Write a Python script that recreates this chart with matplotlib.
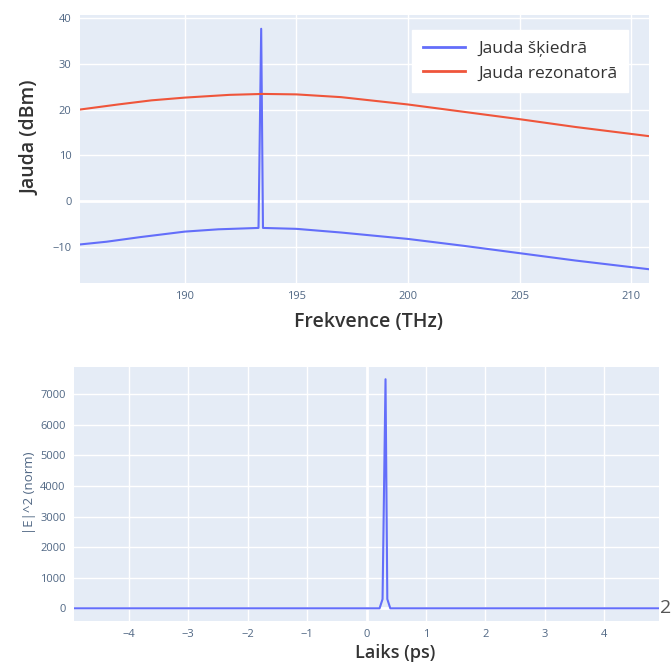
import matplotlib.pyplot as plt

plt.rcParams['font.family'] = ['Open Sans', 'DejaVu Sans']

# top panel: power spectrum
freq_fiber = [185.3, 186.5, 188, 190, 191.5, 193.3, 193.42, 193.5, 195, 197, 200, 202.5, 205, 207.5, 210.8]
power_fiber = [-9.4, -8.8, -7.8, -6.6, -6.1, -5.8, 37.6, -5.8, -6.0, -6.8, -8.2, -9.7, -11.3, -12.9, -14.8]
freq_res = [185.3, 187, 188.5, 190, 192, 193.5, 195, 197, 200, 202.5, 205, 207.5, 210.8]
power_res = [20.0, 21.1, 22.0, 22.6, 23.2, 23.4, 23.3, 22.7, 21.1, 19.5, 17.9, 16.2, 14.2]
freq_ticks = [190, 195, 200, 205, 210]
power_ticks = [-10, 0, 10, 20, 30, 40]

# bottom panel: pulse in time
time_ps = [-4.92, 0.22, 0.27, 0.32, 0.35, 0.40, 4.92]
intensity = [0, 0, 300, 7490, 300, 0, 0]
time_ticks = [-4, -3, -2, -1, 0, 1, 2, 3, 4]
int_ticks = [0, 1000, 2000, 3000, 4000, 5000, 6000, 7000]

blue = '#636EFA'
red = '#EF553B'
bg = '#E5ECF6'
tick_col = '#506784'
label_col = '#333333'

W, H = 671, 665
fig = plt.figure(figsize=(W / 100, H / 100), dpi=100)


def px_axes(x0, y0, x1, y1):
    return fig.add_axes([x0 / W, 1 - y1 / H, (x1 - x0) / W, (y1 - y0) / H])


def style(ax):
    ax.set_facecolor(bg)
    for s in ax.spines.values():
        s.set_visible(False)
    ax.grid(True, color='white', linewidth=1)
    ax.set_axisbelow(True)
    ax.tick_params(length=0, labelsize=8, labelcolor=tick_col, pad=6)


ax1 = px_axes(80, 15, 649, 283)
style(ax1)
ax1.plot(freq_fiber, power_fiber, color=blue, lw=1.5, label='Jauda šķiedrā')
ax1.plot(freq_res, power_res, color=red, lw=1.5, label='Jauda rezonatorā')
ax1.set_xlim(185.3, 210.8)
ax1.set_ylim(-17.8, 40.6)
ax1.set_xticks(freq_ticks)
ax1.set_yticks(power_ticks)
ax1.axhline(0, color='white', lw=2, zorder=0.5)
leg = ax1.legend(loc='upper right', bbox_to_anchor=(0.963, 0.944), borderaxespad=0,
                 fontsize=12.5, handlelength=2.4, fancybox=False, framealpha=1,
                 edgecolor='white', labelcolor='#333333', borderpad=0.6)
for line in leg.get_lines():
    line.set_linewidth(2)

ax2 = px_axes(74, 367, 659, 621)
style(ax2)
ax2.plot(time_ps, intensity, color=blue, lw=1.5)
ax2.set_xlim(-4.92, 4.92)
ax2.set_ylim(-415, 7890)
ax2.set_xticks(time_ticks)
ax2.set_yticks(int_ticks)
ax2.axhline(0, color='white', lw=2, zorder=0.5)
ax2.axvline(0, color='white', lw=2, zorder=0.5)

fig.text(30 / W, 1 - 138 / H, 'Jauda (dBm)', rotation=90, ha='center', va='center',
         fontsize=14, color=label_col, fontweight='semibold')
fig.text(369 / W, 1 - 322 / H, 'Frekvence (THz)', ha='center', va='center',
         fontsize=14, color=label_col, fontweight='semibold')
fig.text(29 / W, 1 - 493 / H, '|E|^2 (norm)', rotation=90, ha='center', va='center',
         fontsize=9.5, color=tick_col)
fig.text(395 / W, 1 - 653 / H, 'Laiks (ps)', ha='center', va='center',
         fontsize=13, color=label_col, fontweight='semibold')
fig.text(660 / W, 1 - 608 / H, '2', ha='left', va='center', fontsize=14, color='#555555')

fig.savefig('out.png', dpi=100)
